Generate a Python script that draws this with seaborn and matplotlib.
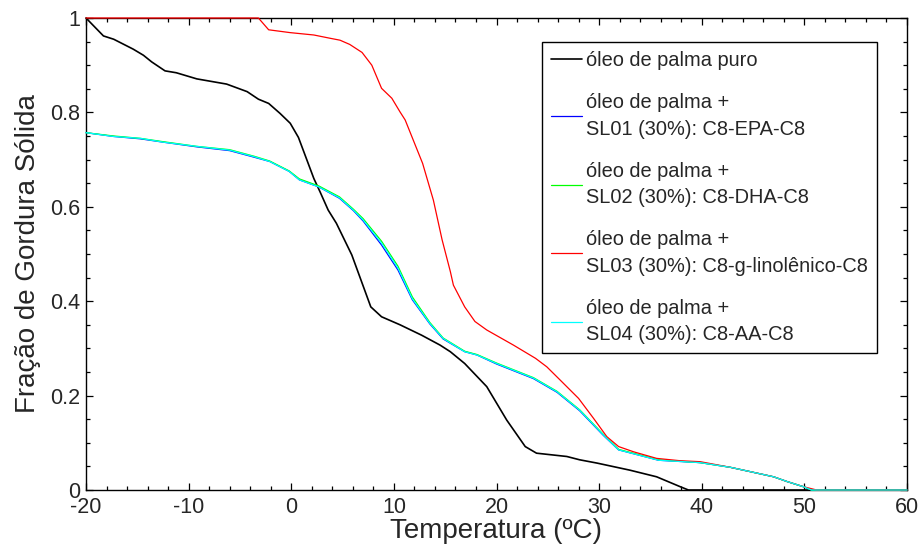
import numpy as np
import pandas as pd
import matplotlib
matplotlib.use("Agg")
import matplotlib.pyplot as plt
from matplotlib.ticker import MultipleLocator
import seaborn as sns

# Solid fat fraction vs temperature (ºC)
x_puro = [-20, -18.3, -17.3, -15.4, -14.4, -13.6, -12.3, -11.2, -9.2, -6.3, -4.3, -3.2,
          -2.2, -1.1, -0.1, 0.7, 2.2, 2.8, 3.6, 4.4, 5.9, 7.75, 8.8, 10.6, 12.7, 14.5,
          15.5, 16.9, 19.05, 21.0, 22.8, 23.9, 26.85, 28.1, 29.8, 33.0, 35.6, 37.9, 38.7, 60]
y_puro = [1.0, 0.962, 0.955, 0.934, 0.921, 0.907, 0.888, 0.884, 0.871, 0.860, 0.844, 0.828,
          0.819, 0.798, 0.777, 0.747, 0.660, 0.632, 0.593, 0.565, 0.498, 0.388, 0.367, 0.350, 0.328, 0.307,
          0.293, 0.268, 0.219, 0.148, 0.092, 0.078, 0.071, 0.064, 0.057, 0.042, 0.028, 0.007, 0.0, 0.0]

x_sl03 = [-20, -3.2, -2.2, -0.1, 2.2, 3.8, 4.75, 5.7, 6.9, 7.85, 8.8, 9.8, 10.6, 11.1, 12.8,
          13.85, 14.7, 15.5, 15.8, 16.9, 17.9, 19.05, 21.65, 23.8, 24.9, 26.2, 28.0, 29.45,
          30.75, 31.9, 33.35, 35.6, 37.9, 39.85, 42.8, 44.7, 47.0, 48.3, 49.9, 51.2, 60]
y_sl03 = [1.0, 1.0, 0.975, 0.969, 0.964, 0.957, 0.953, 0.944, 0.927, 0.900, 0.851, 0.830, 0.801, 0.784, 0.692,
          0.614, 0.530, 0.463, 0.434, 0.388, 0.357, 0.339, 0.307, 0.279, 0.261, 0.233, 0.194, 0.152,
          0.113, 0.092, 0.081, 0.067, 0.062, 0.060, 0.048, 0.039, 0.028, 0.018, 0.007, 0.0, 0.0]

x_mix = [-20, -17.3, -14.7, -12.5, -9.2, -6.0, -3.6, -2.1, -0.2, 0.8, 2.7, 4.7, 6.05, 7.0,
         8.8, 10.4, 11.8, 13.5, 14.8, 16.9, 18.1, 20.0, 23.6, 25.9, 28.1, 30.4, 31.9, 35.8,
         39.85, 42.8, 44.7, 47.0, 48.3, 49.9, 50.7, 60]
y_sl01 = [0.757, 0.749, 0.744, 0.737, 0.727, 0.719, 0.705, 0.696, 0.675, 0.657, 0.642, 0.618, 0.592, 0.570,
          0.519, 0.466, 0.403, 0.352, 0.320, 0.293, 0.286, 0.267, 0.236, 0.207, 0.168, 0.116, 0.085, 0.063,
          0.058, 0.048, 0.039, 0.028, 0.018, 0.007, 0.0, 0.0]
y_sl02 = [0.757, 0.750, 0.745, 0.738, 0.728, 0.721, 0.707, 0.697, 0.676, 0.659, 0.644, 0.621, 0.595, 0.575,
          0.527, 0.474, 0.409, 0.355, 0.322, 0.294, 0.287, 0.269, 0.238, 0.209, 0.170, 0.118, 0.086, 0.064,
          0.058, 0.048, 0.039, 0.028, 0.018, 0.007, 0.0, 0.0]
y_sl04 = [0.757, 0.749, 0.745, 0.737, 0.728, 0.720, 0.706, 0.696, 0.675, 0.657, 0.642, 0.619, 0.593, 0.572,
          0.523, 0.470, 0.405, 0.353, 0.321, 0.293, 0.286, 0.268, 0.237, 0.208, 0.169, 0.117, 0.085, 0.063,
          0.058, 0.048, 0.039, 0.028, 0.018, 0.007, 0.0, 0.0]

labels = ["óleo de palma puro",
          "óleo de palma +\nSL01 (30%): C8-EPA-C8",
          "óleo de palma +\nSL02 (30%): C8-DHA-C8",
          "óleo de palma +\nSL03 (30%): C8-g-linolênico-C8",
          "óleo de palma +\nSL04 (30%): C8-AA-C8"]
colors = ["#000000", "#0000ff", "#00ff00", "#ff0000", "#00ffff"]

x_ticks = [-20, -10, 0, 10, 20, 30, 40, 50, 60]
y_ticks = [0, 0.2, 0.4, 0.6, 0.8, 1]
y_ticklabels = ["0", "0.2", "0.4", "0.6", "0.8", "1"]

sns.set_style("white")
plt.rcParams["font.family"] = ["Liberation Sans", "DejaVu Sans"]

fig = plt.figure(figsize=(9.24, 5.5), dpi=100)
ax = fig.add_axes([86 / 924, 1 - 490 / 550, 821 / 924, 472 / 550])

series = [(x_puro, y_puro), (x_mix, y_sl01), (x_mix, y_sl02), (x_sl03, y_sl03), (x_mix, y_sl04)]
for (xs, ys), lab, col in zip(series, labels, colors):
    df = pd.DataFrame({"T": xs, "SFC": ys})
    sns.lineplot(data=df, x="T", y="SFC", color=col, label=lab, ax=ax,
                 linewidth=1.2 if col == "#000000" else 0.9, sort=False, clip_on=False)

ax.set_xlim(-20, 60)
ax.set_ylim(0, 1)
ax.set_xticks(x_ticks)
ax.set_xticklabels([str(t) for t in x_ticks])
ax.set_yticks(y_ticks)
ax.set_yticklabels(y_ticklabels)
ax.xaxis.set_minor_locator(MultipleLocator(2))
ax.yaxis.set_minor_locator(MultipleLocator(0.05))
ax.tick_params(which="both", direction="in", top=True, right=True, bottom=True, left=True,
               color="black", width=0.9)
ax.tick_params(which="major", length=5, labelsize=15.5, pad=5)
ax.tick_params(which="minor", length=3)
ax.tick_params(axis="y", pad=4)
for sp in ax.spines.values():
    sp.set_color("black")
    sp.set_linewidth(1.0)
    sp.set_zorder(1)

ax.set_xlabel("Temperatura (ºC)", fontsize=20, labelpad=0)
ax.set_ylabel("Fração de Gordura Sólida", fontsize=20, labelpad=7)

leg = ax.legend(loc="upper right", bbox_to_anchor=(0.9635, 0.949), borderaxespad=0,
                fontsize=14.4, frameon=True, fancybox=False, edgecolor="black",
                handlelength=1.55, handletextpad=0.2, borderpad=0.45, labelspacing=1.15)
for t in leg.get_texts():
    t.set_linespacing(1.5)
leg.get_frame().set_linewidth(1.0)
leg.get_frame().set_alpha(1)
leg.set_zorder(5)

fig.savefig("out.png", dpi=100, facecolor="white")
